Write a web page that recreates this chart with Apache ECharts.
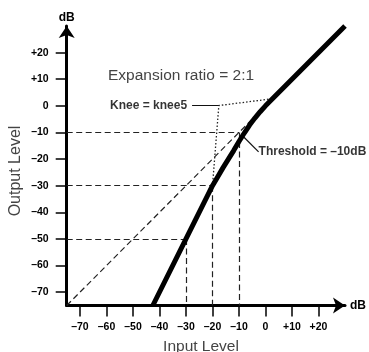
<!DOCTYPE html>
<html>
<head>
<meta charset="utf-8">
<script src="https://cdn.jsdelivr.net/npm/echarts@6/dist/echarts.min.js"></script>
<style>
html,body{margin:0;padding:0;background:#fff;}
#c{width:369px;height:352px;}
</style>
</head>
<body>
<div id="c"></div>
<script>
// ---- data ----
const inputTicks = [-70, -60, -50, -40, -30, -20, -10, 0, 10, 20];
const outputTicks = [-70, -60, -50, -40, -30, -20, -10, 0, 10, 20];
const curveInput  = [-42.5, -30, -20, -18, -16, -14, -12, -10, -8, -6, -4, -2, 0, 30];
const curveOutput = [-75, -50, -30, -26.6, -23.2, -20, -16.8, -13.4, -10.2, -7.2, -4.6, -2.2, 0, 30];
const unityInput  = [-75, -5];
const unityOutput = [-75, -5];
const guideInput  = [-10, -20, -30];   // vertical dashed guides
const guideOutput = [-10, -30, -50];   // horizontal dashed guides
const kneeLabelPoint = [-27.7, 0.1];
const kneeCorner = [-17.6, 0.1];
const kneeTop = [1.1, 2.5];
const kneeBottom = [-20, -30];
const thresholdLeader = [[-8.2, -11.7], [-2.6, -17.3]];
const axisMin = -75, axisMax = 30;
const ratioText = 'Expansion ratio = 2:1';
const kneeText = 'Knee = knee5';
const thresholdText = 'Threshold = \u201310dB';

const fmt = v => v > 0 ? '+' + v : (v < 0 ? '\u2013' + (-v) : '0');
const FONT = '"Liberation Sans", Arial, Helvetica, sans-serif';

const dashedLines = [];
for (let i = 0; i < guideInput.length; i++) {
  dashedLines.push({coords: [[axisMin, guideOutput[i]], [guideInput[i], guideOutput[i]]]});
  dashedLines.push({coords: [[guideInput[i], guideOutput[i]], [guideInput[i], axisMin]]});
}
dashedLines.push({coords: [[unityInput[0], unityOutput[0]], [unityInput[1], unityOutput[1]]]});

const chart = echarts.init(document.getElementById('c'), null, {renderer: 'canvas'});

function axisCommon(ticks) {
  return {
    type: 'value', min: axisMin, max: axisMax,
    splitLine: {show: false},
    axisLine: {show: true, onZero: false, symbol: ['none', 'arrow'], symbolSize: [12, 12],
      lineStyle: {color: '#000', width: 3}},
    axisTick: {show: true, customValues: ticks, length: 11, lineStyle: {color: '#000', width: 1.5}},
    axisLabel: {customValues: ticks, formatter: fmt, color: '#000', fontSize: 10.5,
      fontWeight: 'bold', fontFamily: FONT},
    name: 'dB', nameLocation: 'end',
    nameTextStyle: {color: '#000', fontSize: 12, fontWeight: 'bold', fontFamily: FONT}
  };
}

const xAx = axisCommon(inputTicks);
xAx.axisLabel.margin = 16; xAx.nameGap = 5;
const yAx = axisCommon(outputTicks);
yAx.axisLabel.margin = 18; yAx.nameGap = 2;

chart.setOption({
  animation: false,
  grid: {left: 66.7, right: 22, top: 26, bottom: 46.5},
  xAxis: xAx,
  yAxis: yAx,
  graphic: [
    {type: 'text', left: 108, top: 68, style: {text: ratioText, fill: '#444', fontSize: 15.5, fontFamily: FONT}},
    {type: 'text', x: 16, y: 171, rotation: Math.PI / 2,
      style: {text: 'Output Level', fill: '#444', fontSize: 16, fontFamily: FONT, align: 'center', verticalAlign: 'middle'}},
    {type: 'text', x: 201, y: 347,
      style: {text: 'Input Level', fill: '#444', fontSize: 15.5, fontFamily: FONT, align: 'center', verticalAlign: 'middle'}}
  ],
  series: [
    {type: 'lines', coordinateSystem: 'cartesian2d', polyline: false, silent: true,
      lineStyle: {color: '#222', width: 1.2, type: [6, 3.5], opacity: 1},
      data: dashedLines},
    {type: 'lines', coordinateSystem: 'cartesian2d', polyline: true, silent: true,
      lineStyle: {color: '#222', width: 1.3, type: [1.5, 2], opacity: 1},
      data: [{coords: [kneeTop, kneeCorner, kneeBottom]}]},
    {type: 'lines', coordinateSystem: 'cartesian2d', polyline: false, silent: true,
      lineStyle: {color: '#111', width: 1.2, type: 'solid', opacity: 1},
      data: [{coords: [kneeLabelPoint, kneeCorner]}, {coords: thresholdLeader}]},
    {type: 'line', clip: false, symbol: 'none', smooth: false,
      lineStyle: {color: '#000', width: 5, cap: 'butt', join: 'round'}, z: 5,
      data: curveInput.map((x, i) => [x, curveOutput[i]])},
    {type: 'scatter', symbolSize: 0, silent: true, z: 6,
      data: [
        {value: kneeLabelPoint, label: {show: true, position: 'left', distance: 5, formatter: kneeText}},
        {value: thresholdLeader[1], label: {show: true, position: 'right', distance: 0, formatter: thresholdText}}
      ],
      label: {color: '#000', fontSize: 12, fontWeight: 'bold', fontFamily: FONT}}
  ]
});
</script>
</body>
</html>
